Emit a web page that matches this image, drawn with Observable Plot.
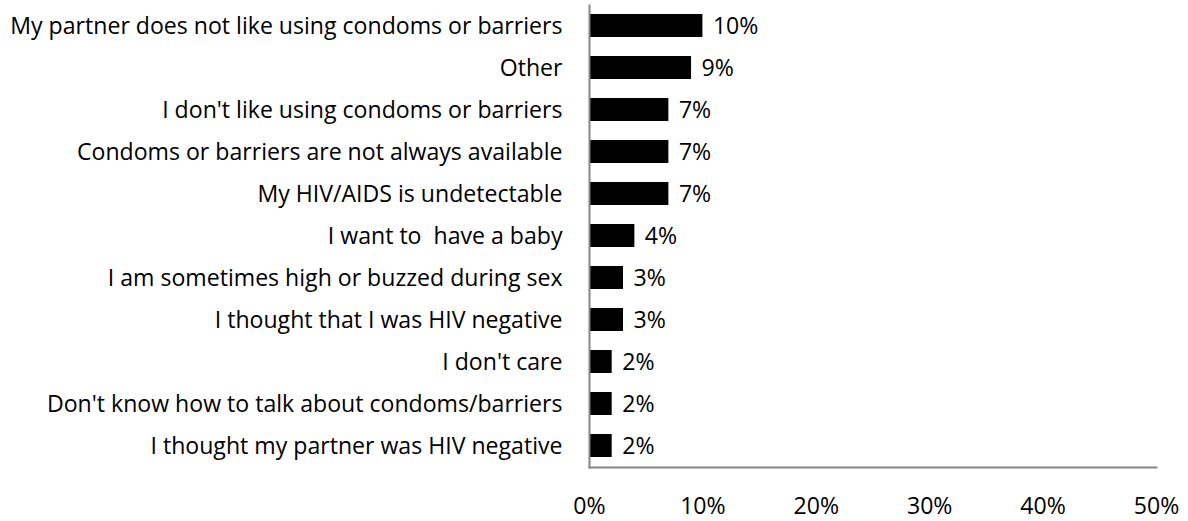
<!DOCTYPE html>
<html><head><meta charset="utf-8">
<script src="https://cdn.jsdelivr.net/npm/d3@7"></script>
<script src="https://cdn.jsdelivr.net/npm/@observablehq/plot@0.6"></script>
<style>
body{margin:0;background:#fff;}
svg text{white-space:pre;}
</style>
</head><body><div id="chart"></div>
<script>
const categories = [
  "My partner does not like using condoms or barriers",
  "Other",
  "I don't like using condoms or barriers",
  "Condoms or barriers are not always available",
  "My HIV/AIDS is undetectable",
  "I want to  have a baby",
  "I am sometimes high or buzzed during sex",
  "I thought that I was HIV negative",
  "I don't care",
  "Don't know how to talk about condoms/barriers",
  "I thought my partner was HIV negative"
];
const values = [10, 9, 7, 7, 7, 4, 3, 3, 2, 2, 2];
const xTicks = [0, 10, 20, 30, 40, 50];

const data = categories.map((c, i) => ({category: c, value: values[i]}));

const chart = Plot.plot({
  width: 1188,
  height: 521,
  marginLeft: 589,
  marginRight: 32,
  marginTop: 5,
  marginBottom: 54,
  style: {fontFamily: "'Open Sans', Lato, sans-serif", fontSize: "23.1px", color: "#000", background: "#fff"},
  x: {domain: [0, 50], ticks: xTicks, tickFormat: d => d + "%"},
  y: {domain: categories, paddingInner: 0.45, paddingOuter: 0.225},
  marks: [
    Plot.barX(data, {x: "value", y: "category", fill: "#000"}),
    Plot.text(data, {x: "value", y: "category", text: d => d.value + "%", textAnchor: "start", dx: 10, dy: 1, fontSize: 23.1, fill: "#000"}),
    Plot.frame({anchor: "left", stroke: "#868686", strokeWidth: 2}),
    Plot.frame({anchor: "bottom", stroke: "#868686", strokeWidth: 2}),
    Plot.axisX({ticks: xTicks, tickFormat: d => d + "%", tickSize: 0, tickPadding: 30, fontSize: 23.1, label: null}),
    Plot.axisY({tickSize: 0, tickPadding: 27, dy: 1, fontSize: 23.1, label: null})
  ]
});
document.getElementById("chart").appendChild(chart);
</script>
</body></html>
